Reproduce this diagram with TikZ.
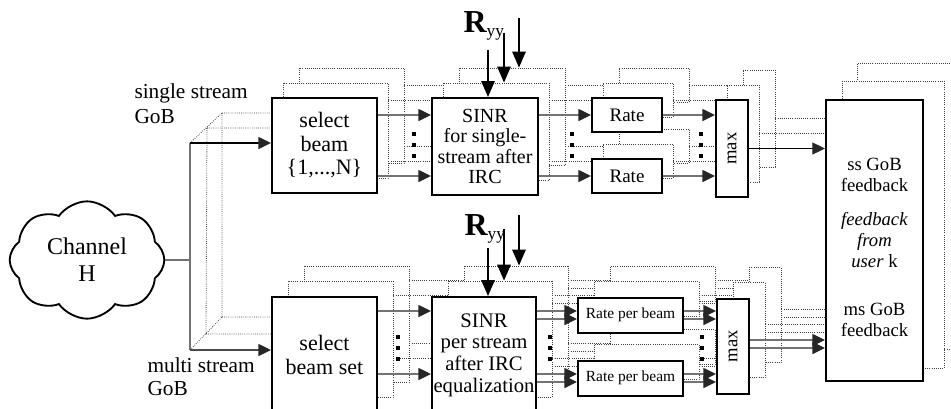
\documentclass[tikz,border=0pt]{standalone}
\usepackage{fontspec}
\setmainfont{Liberation Serif}
\usetikzlibrary{arrows.meta,shapes.symbols,calc}

\newcommand\fsz[2]{\fontsize{#1}{#2}\selectfont}

\tikzset{every picture/.style={line width=0.75pt}}
\tikzset{
  frontbox/.style={draw=black, line width=1.5pt, fill=white, inner sep=0pt, align=center},
  backbox/.style={draw=black!75, densely dotted, line width=0.6pt, fill=white, inner sep=0pt},
  wire/.style={draw=black!55, line width=1.1pt, -{Triangle[length=9.5pt,width=9pt,color=black!85]}},
  backwire/.style={draw=black!75, densely dotted, line width=0.6pt},
  ryyarrow/.style={draw=black, line width=1.5pt, -{Triangle[length=12pt,width=10pt]}},
  selsize/.style={minimum width=78.75pt, minimum height=71.25pt},
  sinsize/.style={minimum width=79.5pt, minimum height=72.75pt},
  ratesize/.style={minimum width=52.5pt, minimum height=25.5pt},
  maxsize/.style={minimum width=24pt, minimum height=72.75pt},
  selBsize/.style={minimum width=78.75pt, minimum height=87pt},
  sinBsize/.style={minimum width=78pt, minimum height=87pt},
  rpbsize/.style={minimum width=78.75pt, minimum height=26.25pt},
  maxBsize/.style={minimum width=24pt, minimum height=71.25pt}
}

\begin{document}
\begin{tikzpicture}[x=0.75pt,y=0.75pt,yscale=-1,xscale=1]
\useasboundingbox (0,0) rectangle (951,408);

% feedback box copies behind
\node[backbox, minimum width=77.25pt, minimum height=214.5pt] (fb2) at (908.5,206) {};
\node[backbox, minimum width=76.5pt, minimum height=215.25pt] (fb1) at (893,224.5) {};

% single stream GoB, copies behind
\foreach \k/\dx/\dy in {2/27/-30,1/11/-15}{
  \node[backbox, selsize] (sb\k) at ({324.5+\dx},{145.5+\dy}) {};
  \node[backbox, sinsize] (si\k) at ({485+\dx},{146.5+\dy}) {};
  \node[backbox, ratesize] (ra\k) at ({627+\dx},{115+\dy}) {};
  \node[backbox, ratesize] (rb\k) at ({627+\dx},{176+\dy}) {};
  \node[backbox, maxsize] (mx\k) at ({732+\dx},{148.5+\dy}) {};
  \draw[backwire] (sb\k.east |- ra\k) -- (si\k.west |- ra\k)
                  (sb\k.east |- rb\k) -- (si\k.west |- rb\k)
                  (si\k.east |- ra\k) -- (ra\k.west)
                  (si\k.east |- rb\k) -- (rb\k.west)
                  (ra\k.east) -- (ra\k.east -| mx\k.west)
                  (rb\k.east) -- (rb\k.east -| mx\k.west)
                  (mx\k.east) -- (mx\k.east -| fb\k.west);
}

% multi stream GoB, copies behind
\foreach \k/\dx/\dy in {2/32/-31,1/16/-16}{
  \node[backbox, selBsize] (ss\k) at ({324.5+\dx},{355+\dy}) {};
  \node[backbox, sinBsize] (sj\k) at ({484+\dx},{355+\dy}) {};
  \node[backbox, rpbsize] (pa\k) at ({630.5+\dx},{315+\dy}) {};
  \node[backbox, rpbsize] (pb\k) at ({630.5+\dx},{378+\dy}) {};
  \node[backbox, maxBsize] (mb\k) at ({733+\dx},{346+\dy}) {};
  \draw[backwire] ($(ss\k.east |- pa\k)+(0,-4)$) -- ($(sj\k.west |- pa\k)+(0,-4)$)
                  ($(ss\k.east |- pb\k)+(0,-4)$) -- ($(sj\k.west |- pb\k)+(0,-4)$);
  \foreach \s in {-4,4}
    \draw[backwire] ($(sj\k.east |- pa\k)+(0,\s)$) -- ($(pa\k.west)+(0,\s)$)
                    ($(sj\k.east |- pb\k)+(0,\s)$) -- ($(pb\k.west)+(0,\s)$)
                    ($(pa\k.east)+(0,\s)$) -- ($(pa\k.east -| mb\k.west)+(0,\s)$)
                    ($(pb\k.east)+(0,\s)$) -- ($(pb\k.east -| mb\k.west)+(0,\s)$)
                    ($(mb\k.east)+(0,\s-2)$) -- ($(mb\k.east -| fb\k.west)+(0,\s-2)$);
}

% channel split
\coordinate (jt) at (190,143);
\coordinate (jt1) at (207,128);
\coordinate (jt2) at (222,113);
\coordinate (jb) at (190,350);
\coordinate (jb1) at (206,334);
\coordinate (jb2) at (222,317);
\draw[backwire] (jt) -- (jt2) (jb) -- (jb2) (jt1) -- (jb1) (jt2) -- (jb2)
  (jt1) -- (jt1 -| sb1.west) (jt2) -- (jt2 -| sb2.west)
  (jb1) -- (jb1 -| ss1.west) (jb2) -- (jb2 -| ss2.west);

% single stream GoB
\node[frontbox, selsize, font=\fsz{16.5}{17.6}] (sb0) at (324.5,145.5) {select\\beam\\\{1,...,N\}};
\node[frontbox, sinsize, font=\fsz{15}{15.2}] (si0) at (485,146.5) {SINR\\for single-\\stream after\\IRC};
\node[frontbox, ratesize, font=\fsz{14.3}{16}] (ra0) at (627,115) {Rate};
\node[frontbox, ratesize, font=\fsz{14.3}{16}] (rb0) at (627,176) {Rate};
\node[frontbox, maxsize, font=\fsz{14}{16}] (mx0) at (732,148.5) {\rotatebox{90}{max}};
\draw[wire] (sb0.east |- ra0) -- (si0.west |- ra0);
\draw[wire] (sb0.east |- rb0) -- (si0.west |- rb0);
\draw[wire] (si0.east |- ra0) -- (ra0.west);
\draw[wire] (si0.east |- rb0) -- (rb0.west);
\draw[wire] (ra0.east) -- (ra0.east -| mx0.west);
\draw[wire] (rb0.east) -- (rb0.east -| mx0.west);

% multi stream GoB
\node[frontbox, selBsize, font=\fsz{16.5}{17.6}] (ss0) at (324.5,355) {select\\beam set};
\node[frontbox, sinBsize, font=\fsz{15.5}{16.3}] (sj0) at (484,355) {SINR\\per stream\\after IRC\\equalization};
\node[frontbox, rpbsize, font=\fsz{11.6}{13}] (pa0) at (630.5,315) {Rate per beam};
\node[frontbox, rpbsize, font=\fsz{11.6}{13}] (pb0) at (630.5,378) {Rate per beam};
\node[frontbox, maxBsize, font=\fsz{14}{16}] (mb0) at (733,346) {\rotatebox{90}{max}};
\draw[wire] ($(ss0.east |- pa0)+(0,-4)$) -- ($(sj0.west |- pa0)+(0,-4)$);
\draw[wire] ($(ss0.east |- pb0)+(0,-4)$) -- ($(sj0.west |- pb0)+(0,-4)$);
\foreach \s in {-4,4}{
  \draw[wire] ($(sj0.east |- pa0)+(0,\s)$) -- ($(pa0.west)+(0,\s)$);
  \draw[wire] ($(sj0.east |- pb0)+(0,\s)$) -- ($(pb0.west)+(0,\s)$);
  \draw[wire] ($(pa0.east)+(0,\s)$) -- ($(pa0.east -| mb0.west)+(0,\s)$);
  \draw[wire] ($(pb0.east)+(0,\s)$) -- ($(pb0.east -| mb0.west)+(0,\s)$);
}

% channel
\node[draw, cloud, cloud puffs=8, cloud puff arc=110, aspect=1.4, line width=1.4pt, minimum width=116pt, minimum height=88pt, inner sep=0pt, align=center, font=\fsz{18}{20}] (ch) at (87,260) {Channel\\H};
\draw[draw=black!55, line width=1.1pt] (ch.east) -- (ch.east -| jt) (jt) -- (jb);
\draw[wire, draw=black] (jt) -- (jt -| sb0.west);
\draw[wire, draw=black!70] (jb) -- (jb -| ss0.west);

% feedback
\node[frontbox, minimum width=72.75pt, minimum height=210.75pt] (fb0) at (874.5,240.5) {};
\node[font=\fsz{14}{15.75}, align=center, inner sep=0pt] (fbt) at (874.5,247) {ss GoB\\feedback\\[10pt]\textit{feedback}\\\textit{from}\\\textit{user} k\\[20pt]ms GoB\\feedback};
\draw[wire, draw=black, line width=0.8pt] (mx0.east) -- (mx0.east -| fb0.west);
\foreach \s in {-6,2}
  \draw[wire] ($(mb0.east)+(0,\s)$) -- ($(mb0.east -| fb0.west)+(0,\s)$);

% labels
\node[anchor=west, align=left, inner sep=0pt, font=\fsz{16}{18.75}] (lss) at (134,104) {single stream\\GoB};
\node[anchor=west, align=left, inner sep=0pt, font=\fsz{16}{17}] (lms) at (147,376.5) {multi stream\\GoB};

% R_yy inputs
\node[anchor=base west, inner sep=0pt, font=\fsz{24}{24}\bfseries] (ryt) at (463,32) {R\raisebox{-3pt}{\fsz{13}{13}\mdseries yy}};
\node[anchor=base west, inner sep=0pt, font=\fsz{24}{24}\bfseries] (ryb) at (464,235) {R\raisebox{-3pt}{\fsz{13}{13}\mdseries yy}};
\coordinate (rt1) at (488,50);
\coordinate (rt2) at (504,33);
\coordinate (rt3) at (519,18);
\coordinate (rb1) at (488,248);
\coordinate (rb2) at (504,229);
\coordinate (rb3) at (519,215);
\draw[ryyarrow] (rt1) -- (rt1 |- si0.north);
\draw[ryyarrow] (rt2) -- (rt2 |- si1.north);
\draw[ryyarrow] (rt3) -- (rt3 |- si2.north);
\draw[ryyarrow] (rb1) -- (rb1 |- sj0.north);
\draw[ryyarrow] (rb2) -- (rb2 |- sj1.north);
\draw[ryyarrow] (rb3) -- (rb3 |- sj2.north);

% dots
\foreach \x/\y in {414/134,572/134,701/134,398/337,550/337,702/337}
  \foreach \d in {0,11,22}
    \fill ({\x-1.75},{\y+\d-1.75}) rectangle +(4,4);

\end{tikzpicture}
\end{document}
